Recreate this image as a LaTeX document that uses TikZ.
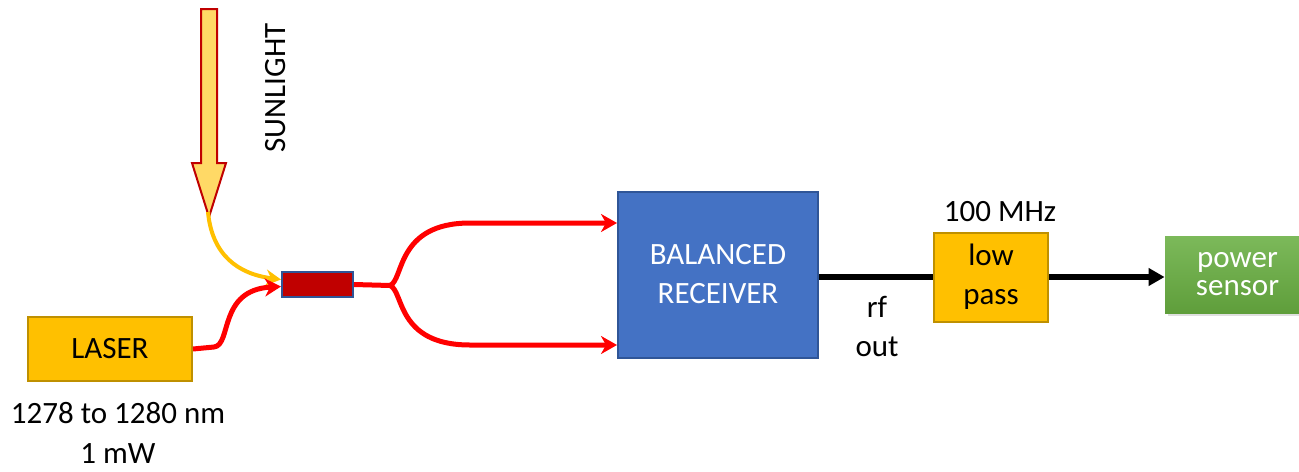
\documentclass[tikz,border=0pt]{standalone}
\usepackage{fontspec}
\setmainfont{Carlito}
\usetikzlibrary{arrows.meta,shadows}
\definecolor{amber}{HTML}{FFC000}
\definecolor{amberedge}{HTML}{BF9000}
\definecolor{paleamber}{HTML}{FFD966}
\definecolor{darkred}{HTML}{C00000}
\definecolor{recvblue}{HTML}{4472C4}
\definecolor{edgeblue}{HTML}{2F5597}
\definecolor{fibre}{HTML}{FF0000}
\definecolor{greentop}{HTML}{7CB95A}
\definecolor{greenbot}{HTML}{5F9E3B}
\tikzset{
  txt/.style={font=\fontsize{15.5}{19.5}\selectfont, align=center, inner sep=0pt},
  ambox/.style={draw=amberedge, fill=amber, line width=1pt, txt},
  fibreline/.style={draw=fibre, line width=2.5pt, line join=round,
    -{Stealth[length=8pt,width=9pt,inset=2.5pt]}},
  sunline/.style={draw=amber, line width=2pt,
    -{Stealth[length=7.5pt,width=8pt,inset=2.5pt]}},
  rfline/.style={draw=black, line width=3pt},
}
\begin{document}
\begin{tikzpicture}[x=0.5pt,y=-0.5pt]
\useasboundingbox (0,0) rectangle (1299,471);

% sunlight block arrow
\filldraw[fill=paleamber, draw=darkred, line width=1pt, line join=miter]
  (201,9) -- (217,9) -- (217,163) -- (226,163) -- (209,217) -- (192,163) -- (201,163) -- cycle;
\coordinate (suntip) at (208,212);
\node[txt, rotate=90] (sunlabel) at (276,88) {SUNLIGHT};

% blocks
\node[ambox, minimum width=82pt, minimum height=32pt] (laser) at (110,349) {LASER};
\node[txt, font=\fontsize{15.5}{20}\selectfont] (laserspec) at (118,433) {1278 to 1280 nm\\1 mW};
\node[draw=edgeblue, fill=darkred, line width=1pt, minimum width=35.5pt, minimum height=12.5pt, inner sep=0pt]
  (coupler) at (317.5,284.5) {};
\node[draw=edgeblue, fill=recvblue, line width=1pt, minimum width=100pt, minimum height=83pt, txt, text=white]
  (recv) at (718,274.5) {BALANCED\\RECEIVER};
\node[ambox, minimum width=57pt, minimum height=44.5pt] (lowpass) at (991,277) {low\\pass};
\node[txt] (cutoff) at (1000,212) {100 MHz};
\node[txt] (rfout) at (877,326) {rf\\out};
\node[top color=greentop, bottom color=greenbot, minimum width=72.5pt, minimum height=38.5pt,
  txt, font=\fontsize{15.5}{14}\selectfont, text=white,
  drop shadow={opacity=0.25, shadow xshift=1.5pt, shadow yshift=-1.5pt}]
  (sensor) at (1237.5,274.5) {power\\sensor};

% sunlight guided into the coupler
\draw[sunline] (suntip) .. controls (212,255) and (238,274) .. ([yshift=2.5pt]coupler.west);

% laser fibre into the coupler
\coordinate (lasbend) at (214,347);
\draw[fibreline] (laser.east) -- (lasbend) .. controls (232,345) and (218,290) .. ([yshift=-1pt]coupler.west);

% splitter outputs
\coordinate (fork) at (390,285.5);
\coordinate (upin) at ([yshift=25.75pt]recv.west);
\coordinate (lowin) at ([yshift=-35.25pt]recv.west);
\draw[draw=fibre, line width=2.5pt] (coupler.east) -- (fork);
\draw[fibreline] (fork) .. controls (404,280) and (396,223) .. (470,223) -- (upin);
\draw[fibreline] (fork) .. controls (404,291) and (396,345) .. (470,345) -- (lowin);

% rf chain
\draw[rfline] (recv.east |- lowpass.west) -- (lowpass.west);
\draw[rfline, -{Triangle[length=8pt,width=8.5pt]}] (lowpass.east) -- (lowpass.east -| sensor.west);
\end{tikzpicture}
\end{document}
